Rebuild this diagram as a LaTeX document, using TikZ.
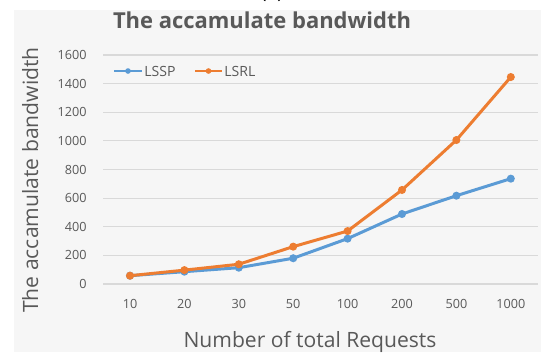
\documentclass[tikz,border=0pt]{standalone}
\usepackage{fontspec}
\setmainfont{Open Sans}
\definecolor{panel}{HTML}{F6F6F6}
\definecolor{gridc}{HTML}{D9D9D9}
\definecolor{txt}{HTML}{595959}
\definecolor{sblue}{HTML}{5B9BD5}
\definecolor{sorange}{HTML}{ED7D31}
\tikzset{
  gridline/.style={draw=gridc, line width=0.6pt},
  ticklab/.style={text=txt, font=\fontsize{7.2}{8}\selectfont, inner sep=0pt},
  axtitle/.style={text=txt, font=\fontsize{12}{14}\selectfont, inner sep=0pt},
  series/.style={line width=1.7pt, line join=round, line cap=round},
  dot/.style={circle, fill, inner sep=0pt, minimum size=4.6pt},
  legtext/.style={text=txt, font=\fontsize{8}{10}\selectfont, inner sep=0pt, anchor=west}
}
\begin{document}
\begin{tikzpicture}[x=0.02cm,y=-0.02cm]
\useasboundingbox (0,0) rectangle (541,352);
\fill[white] (0,0) rectangle (541,352);
\fill[panel] (14,10) rectangle (541,352);
\node[anchor=base, text=black, font=\fontsize{11}{12}\selectfont, inner sep=0pt] (lbl) at (272,-1.5) {(a)};
% title
\node[anchor=base, text=txt, font=\fontsize{12.5}{14}\bfseries\selectfont, inner sep=0pt] (title) at (262,28) {The accamulate bandwidth};
% grid and y labels
\foreach \v in {0,200,...,1600} {
  \draw[gridline] (103,{284-0.143125*\v}) -- (538,{284-0.143125*\v});
  \node[ticklab, anchor=east] (y\v) at (87,{284-0.143125*\v}) {\v};
}
% x labels
\foreach \lab [count=\i from 0] in {10,20,30,50,100,200,500,1000} {
  \node[ticklab] (x\i) at ({130+54.4*\i},304) {\lab};
}
% axis titles
\node[axtitle, anchor=base] (xt) at (310,347) {Number of total Requests};
\node[axtitle, anchor=base, rotate=90] (yt) at (38,180) {The accamulate bandwidth};
% data coordinates
\foreach \v [count=\i from 0] in {58,86,114,180,317,489,617,736} {
  \coordinate (b\i) at ({130+54.4*\i},{284-0.143125*\v});
}
\foreach \v [count=\i from 0] in {58,97,138,261,370,657,1006,1446} {
  \coordinate (o\i) at ({130+54.4*\i},{284-0.143125*\v});
}
% LSSP
\draw[series, sblue] (b0) -- (b1) -- (b2) -- (b3) -- (b4) -- (b5) -- (b6) -- (b7);
\foreach \i in {0,...,7} { \node[dot, fill=sblue] (bm\i) at (b\i) {}; }
% LSRL
\draw[series, sorange] (o0) -- (o1) -- (o2) -- (o3) -- (o4) -- (o5) -- (o6) -- (o7);
\foreach \i in {0,...,7} { \node[dot, fill=sorange] (om\i) at (o\i) {}; }
% legend
\coordinate (l1a) at (114,71); \coordinate (l1b) at (142,71);
\draw[series, sblue, line cap=butt] (l1a) -- (l1b);
\node[dot, fill=sblue, minimum size=3.2pt] (l1m) at (128,71) {};
\node[legtext] (l1t) at (144,71) {LSSP};
\coordinate (l2a) at (195,71); \coordinate (l2b) at (222,71);
\draw[series, sorange, line cap=butt] (l2a) -- (l2b);
\node[dot, fill=sorange, minimum size=3.2pt] (l2m) at (208.5,71) {};
\node[legtext] (l2t) at (224,71) {LSRL};
\end{tikzpicture}
\end{document}
